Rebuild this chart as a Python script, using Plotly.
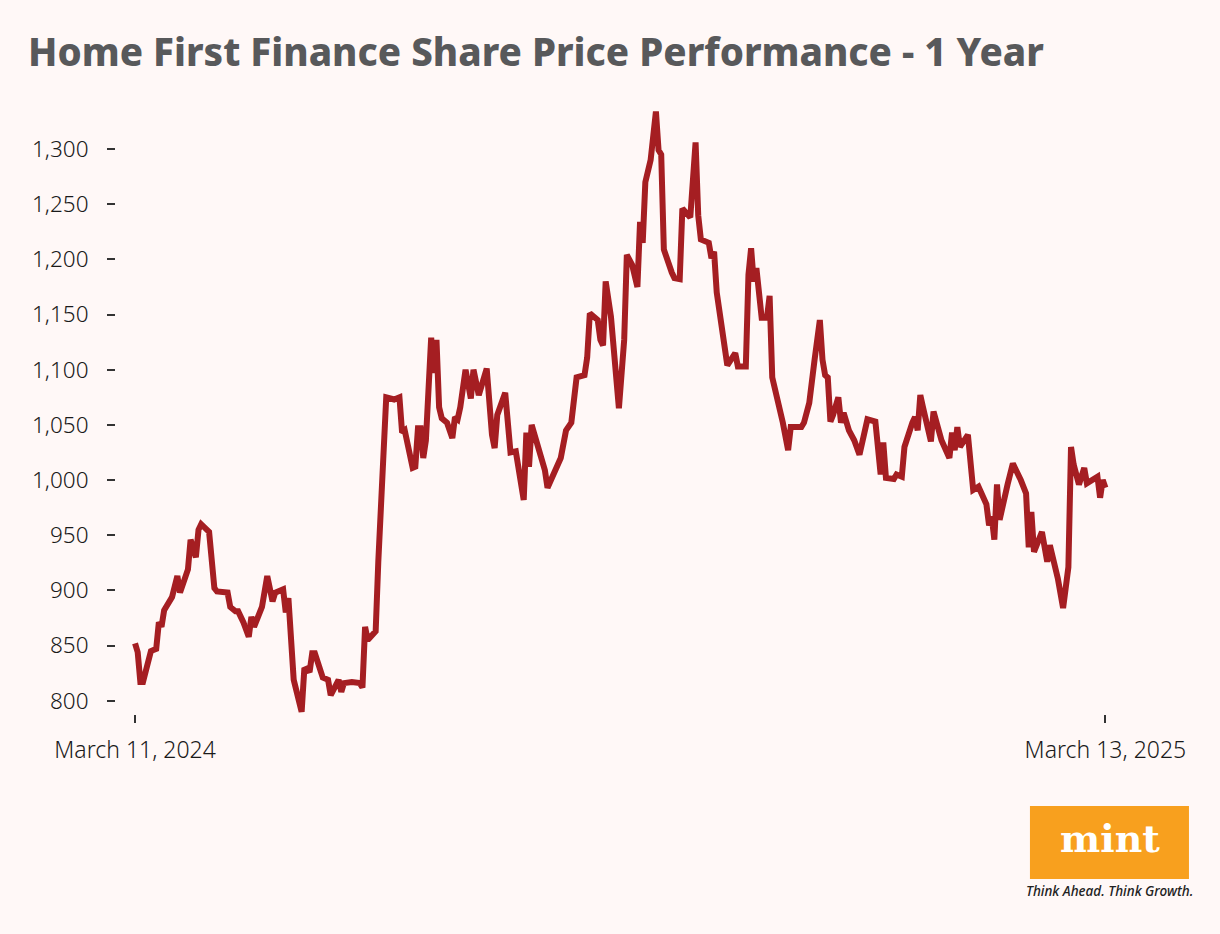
import pandas as pd
import plotly.graph_objects as go

# days since March 11, 2024 for each reading
day_offsets = [
	0, 1, 2, 3, 6, 8, 9, 10, 11, 14,
	16, 17, 20, 21, 23, 24, 25, 28, 30, 31,
	35, 36, 38, 39, 41, 43, 44, 45, 48, 50,
	52, 53, 56, 57, 58, 59, 60, 63, 64, 65,
	66, 67, 68, 71, 73, 74, 77, 78, 79, 82,
	85, 86, 87, 88, 91, 92, 93, 95, 98, 100,
	101, 102, 105, 106, 107, 108, 109, 110, 112, 113,
	114, 115, 116, 118, 120, 121, 122, 123, 125, 127,
	128, 130, 133, 135, 136, 137, 140, 142, 144, 147,
	148, 149, 150, 154, 155, 156, 161, 163, 165, 167,
	170, 171, 172, 175, 176, 177, 178, 180, 183, 185,
	186, 188, 190, 191, 192, 193, 195, 197, 198, 199,
	200, 203, 204, 206, 207, 210, 212, 213, 214, 217,
	218, 219, 220, 224, 227, 228, 231, 232, 233, 234,
	235, 237, 239, 240, 241, 245, 247, 248, 252, 253,
	255, 257, 259, 260, 261, 262, 263, 264, 266, 267,
	268, 270, 272, 274, 275, 277, 280, 282, 283, 284,
	287, 288, 290, 291, 294, 295, 296, 297, 298, 301,
	302, 303, 305, 308, 309, 310, 311, 312, 315, 317,
	319, 322, 323, 324, 325, 326, 327, 330, 332, 335,
	337, 338, 339, 340, 343, 345, 346, 349, 351, 353,
	354, 355, 357, 359, 360, 364, 365, 366, 367,
]

# closing price, Rs
price = [
	852, 844, 817, 817, 845, 847, 871, 867, 882, 894,
	913, 898, 919, 946, 930, 955, 960, 953, 902, 899,
	898, 885, 881, 881, 871, 858, 876, 867, 885, 913,
	890, 898, 901, 880, 893, 849, 819, 790, 828, 829,
	826, 843, 843, 821, 819, 805, 819, 808, 816, 817,
	816, 812, 867, 855, 863, 926, 968, 1075, 1073, 1075,
	1043, 1045, 1011, 1012, 1047, 1047, 1020, 1036, 1129, 1097,
	1127, 1066, 1056, 1052, 1038, 1057, 1055, 1066, 1100, 1074,
	1100, 1077, 1101, 1041, 1029, 1059, 1079, 1025, 1026, 982,
	1043, 1012, 1050, 1016, 1009, 993, 1020, 1045, 1052, 1093,
	1095, 1111, 1151, 1145, 1127, 1122, 1180, 1148, 1065, 1127,
	1204, 1195, 1175, 1234, 1215, 1270, 1290, 1334, 1299, 1295,
	1209, 1188, 1183, 1182, 1246, 1238, 1306, 1240, 1218, 1215,
	1201, 1207, 1170, 1104, 1115, 1103, 1103, 1186, 1210, 1180,
	1192, 1147, 1147, 1167, 1093, 1052, 1027, 1048, 1048, 1052,
	1070, 1109, 1145, 1109, 1095, 1093, 1053, 1059, 1075, 1052,
	1061, 1045, 1036, 1023, 1034, 1055, 1053, 1005, 1034, 1002,
	1001, 1005, 1003, 1030, 1052, 1057, 1045, 1077, 1066, 1035,
	1062, 1053, 1036, 1020, 1043, 1027, 1048, 1030, 1041, 991,
	994, 978, 959, 967, 946, 996, 964, 996, 1015, 1000,
	988, 939, 971, 935, 953, 926, 941, 911, 884, 921,
	1030, 1014, 996, 1011, 997, 1003, 984, 1000, 993,
]

y_ticks = [800, 850, 900, 950, 1000, 1050, 1100, 1150, 1200, 1250, 1300]
x_tick_labels = ["March 11, 2024", "March 13, 2025"]

dates = pd.Timestamp("2024-03-11") + pd.to_timedelta(day_offsets, unit="D")

bg = '#FFF8F7'

fig = go.Figure(data=[
	go.Scatter(x=dates, y=price, mode='lines',
		line=dict(color='#A51E22', width=6), hoverinfo='x+y'),
])

fig.update_layout(
	autosize=False,
	width=1220,
	height=934,
	paper_bgcolor=bg,
	plot_bgcolor=bg,
	showlegend=False,
	margin=go.layout.Margin(l=116, r=95, t=100, b=220),
	title=dict(
		text="Home First Finance Share Price Performance - 1 Year",
		font=dict(family="Noto Sans", size=38.5, color='#58595B', weight=800),
		xref='container', x=28/1220, xanchor='left',
		yref='container', y=1-39/934, yanchor='top',
	),
	xaxis=dict(
		type='date',
		range=["2024-03-03 19:00", "2025-03-20 10:00"],
		showgrid=False, zeroline=False, showline=False,
		tickvals=[dates[0], dates[-1]],
		ticktext=x_tick_labels,
		ticks='outside', ticklen=8, tickwidth=2, tickcolor='#333333',
		ticklabelstandoff=7,
		tickfont=dict(family="Noto Sans", size=23, color='#1A1A1A', weight=300),
	),
	yaxis=dict(
		range=[788, 1344.4],
		showgrid=False, zeroline=False, showline=False,
		tickvals=y_ticks,
		tickformat=',d',
		ticks='outside', ticklen=8, tickwidth=2, tickcolor='#333333',
		ticklabelstandoff=14,
		tickfont=dict(family="Noto Sans", size=22.5, color='#1A1A1A', weight=300),
	),
)

# mint logo, bottom right
fig.add_shape(type='rect', xref='paper', yref='paper',
	x0=0.9058, x1=1.0634, y0=-0.2687, y1=-0.1498,
	fillcolor='#F8A01E', line_width=0, layer='above')
fig.add_annotation(text="<b>mint</b>", xref='paper', yref='paper',
	x=0.9851, y=-0.203, showarrow=False, xanchor='center', yanchor='middle',
	font=dict(family="DejaVu Serif", size=38, color='white'))
fig.add_annotation(text="<i>Think Ahead. Think Growth.</i>", xref='paper', yref='paper',
	x=0.9851, y=-0.2883, showarrow=False, xanchor='center', yanchor='middle',
	font=dict(family="Noto Sans", size=13.5, color='#222222', weight=500))

# page has a default body margin; drop it so the figure fills the window
fig.write_html("out.html", config={'displayModeBar': False},
	post_script="document.body.style.margin='0';")
